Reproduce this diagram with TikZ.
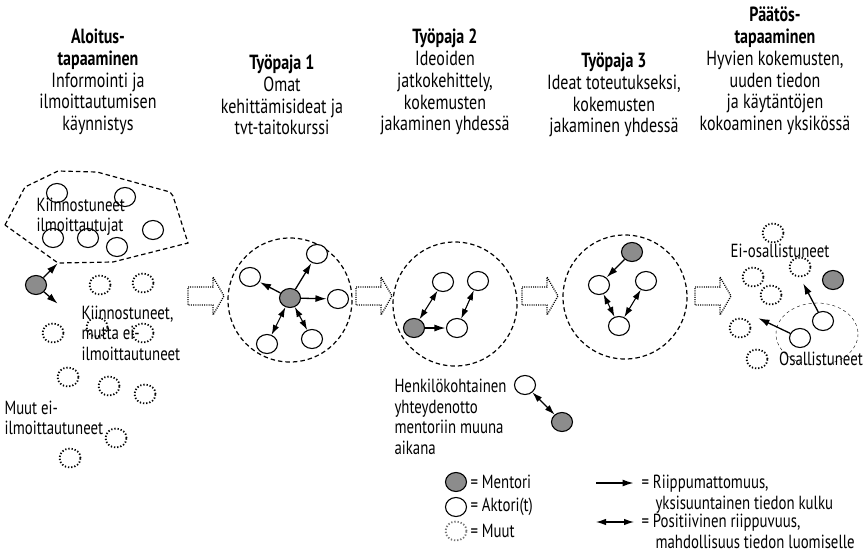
\documentclass[tikz,border=0pt]{standalone}
\usepackage{fontspec}
\setmainfont{PT Sans}[FakeStretch=0.78]
\usetikzlibrary{arrows.meta,shapes.geometric}

\begin{document}
\begin{tikzpicture}[
x=1pt,y=-1pt,
mentor/.style={ellipse,draw,line width=1.1pt,fill=black!45,minimum width=21pt,minimum height=19pt,inner sep=0pt},
actor/.style={ellipse,draw,line width=1.1pt,fill=white,minimum width=21pt,minimum height=19pt,inner sep=0pt},
other/.style={ellipse,draw,line width=1.8pt,dash pattern=on 1.3pt off 1.9pt,minimum width=21pt,minimum height=19pt,inner sep=0pt},
link/.style={-{Latex[length=11pt,width=7pt]},line width=1.3pt,shorten >=0.5pt},
mutual/.style={{Latex[length=10pt,width=6.5pt]}-{Latex[length=10pt,width=6.5pt]},line width=1.1pt},
group/.style={draw,line width=1.2pt,dash pattern=on 4.5pt off 3pt},
flow/.style={draw,line width=1.3pt,dash pattern=on 1pt off 1.2pt},
head/.style={align=center,font=\fontsize{20.5}{21.8}\selectfont},
label/.style={align=left,anchor=west,font=\fontsize{19}{20.5}\selectfont}
]
\useasboundingbox (0,0) rectangle (863,555);

% headings
\node[head] (h1) at (98,82) {\textbf{Aloitus-}\\\textbf{tapaaminen}\\Informointi ja\\ilmoittautumisen\\käynnistys};
\node[head] (h2) at (282,95) {\textbf{Työpaja 1}\\Omat\\kehittämisideat ja\\tvt-taitokurssi};
\node[head] (h3) at (445,82) {\textbf{Työpaja 2}\\Ideoiden\\jatkokehittely,\\kokemusten\\jakaminen yhdessä};
\node[head] (h4) at (614,95) {\textbf{Työpaja 3}\\Ideat toteutukseksi,\\kokemusten\\jakaminen yhdessä};
\node[head] (h5) at (775,71) {\textbf{Päätös-}\\\textbf{tapaaminen}\\Hyvien kokemusten,\\uuden tiedon\\ja käytäntöjen\\kokoaminen yksikössä};

% block arrows between phases
\foreach \x in {188,356,522,695}
  \draw[flow] (\x,287) -- ++(25,0) -- ++(0,-10) -- ++(11,19) -- ++(-11,19) -- ++(0,-10) -- ++(-25,0) -- cycle;

% start meeting
\draw[group] (5,225) -- (25,187) -- (58,171) -- (97,172) -- (170,192) -- (173,196) -- (188,243) -- (113,262) -- (58,263) -- cycle;
\node[actor] (a01) at (57,193) {};
\node[actor] (a02) at (125,197) {};
\node[actor] (a03) at (53,238) {};
\node[actor] (a04) at (88,238) {};
\node[actor] (a05) at (117,247) {};
\node[actor] (a06) at (153,230) {};
\node[mentor] (m0) at (36,285) {};
\coordinate (c01) at (58,263);
\coordinate (c02) at (58,304);
\draw[link] (m0) -- (c01);
\draw[link] (m0) -- (c02);
\foreach \p [count=\i] in {(100,285),(143,283),(53,333),(97,327),(143,333),(68,377),(109,386),(145,394),(116,438),(70,458)}
  \node[other] (o0\i) at \p {};
\node[label] (t01) at (33,217) {Kiinnostuneet\\ilmoittautujat};
\node[label] (t02) at (78,333) {Kiinnostuneet,\\mutta ei-\\ilmoittautuneet};
\node[label] (t03) at (1,418) {Muut ei-\\ilmoittautuneet};

% workshop 1
\draw[group] (290,300) circle (62);
\node[mentor] (m1) at (290,298) {};
\node[actor] (a11) at (250,277) {};
\node[actor] (a12) at (317,254) {};
\node[actor] (a13) at (338,299) {};
\node[actor] (a14) at (267,344) {};
\node[actor] (a15) at (312,339) {};
\draw[link] (m1) -- (a11);
\draw[link] (m1) -- (a12);
\draw[link] (m1) -- (a13);
\draw[mutual] (m1) -- (a14);
\draw[mutual] (m1) -- (a15);

% workshop 2
\draw[group] (455,304) circle (62);
\node[mentor] (m2) at (414,328) {};
\node[actor] (a21) at (443,282) {};
\node[actor] (a22) at (478,281) {};
\node[actor] (a23) at (457,328) {};
\draw[mutual] (m2) -- (a21);
\draw[link] (m2) -- (a23);
\draw[mutual] (a23) -- (a22);

% workshop 3
\draw[group] (625,297) circle (62);
\node[mentor] (m3) at (632,252) {};
\node[actor] (a31) at (599,285) {};
\node[actor] (a32) at (646,281) {};
\node[actor] (a33) at (619,326) {};
\draw[link] (m3) -- (a31);
\draw[mutual] (a31) -- (a33);
\draw[mutual] (a33) -- (a32);

% decision meeting
\draw[thin,dashed] (817,334) ellipse (41 and 31);
\foreach \p [count=\i] in {(773,233),(753,277),(800,267),(771,295),(740,328),(757,359)}
  \node[other] (o5\i) at \p {};
\node[mentor] (m5) at (833,280) {};
\node[actor] (a51) at (823,321) {};
\node[actor] (a52) at (800,338) {};
\coordinate (c51) at (803,283);
\coordinate (c52) at (758,318);
\draw[link] (a51) -- (c51);
\draw[link] (a52) -- (c52);
\node[label,anchor=center] (t51) at (780,251) {Ei-osallistuneet};
\node[label,anchor=center] (t52) at (821,359) {Osallistuneet};

% personal contact
\node[label] (t61) at (391,417) {Henkilökohtainen\\yhteydenotto\\mentoriin muuna\\aikana};
\node[actor] (a61) at (525,385) {};
\node[mentor] (m61) at (562,422) {};
\draw[mutual] (a61) -- (m61);

% legend
\node[mentor] (lm) at (456,482) {};
\node[actor] (la) at (456,507) {};
\node[other,draw=black!55] (lo) at (456,531) {};
\node[label] (tm) at (467,482) {= Mentori};
\node[label] (ta) at (467,507) {= Aktori(t)};
\node[label] (to) at (467,531) {= Muut};
\coordinate (l1a) at (596,483);
\coordinate (l1b) at (634,483);
\coordinate (l2a) at (596,522);
\coordinate (l2b) at (634,522);
\draw[link] (l1a) -- (l1b);
\draw[mutual] (l2a) -- (l2b);
\node[label,anchor=north west] (tl1) at (638,472) {= Riippumattomuus,\\\hspace*{14pt}yksisuuntainen tiedon kulku};
\node[label,anchor=north west] (tl2) at (638,511) {= Positiivinen riippuvuus,\\\hspace*{14pt}mahdollisuus tiedon luomiselle};
\end{tikzpicture}
\end{document}
